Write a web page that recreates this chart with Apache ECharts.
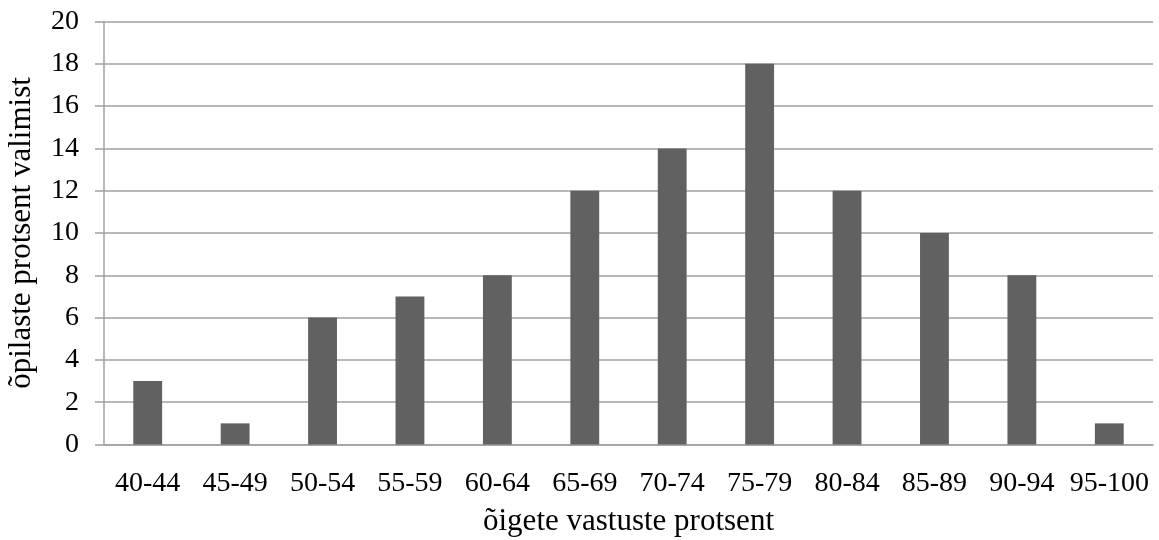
<!DOCTYPE html>
<html>
<head>
<meta charset="utf-8">
<script src="https://cdn.jsdelivr.net/npm/echarts@6/dist/echarts.min.js"></script>
<style>html,body{margin:0;padding:0;background:#fff}#c{width:1159px;height:540px}</style>
</head>
<body>
<div id="c"></div>
<script>
const categories = ['40-44','45-49','50-54','55-59','60-64','65-69','70-74','75-79','80-84','85-89','90-94','95-100'];
const values = [3,1,6,7,8,12,14,18,12,10,8,1];
const xTitle = 'õigete vastuste protsent';
const yTitle = 'õpilaste protsent valimist';

const font = '"Liberation Serif", "Times New Roman", serif';
const chart = echarts.init(document.getElementById('c'), null, {renderer:'canvas'});
chart.setOption({
  animation: false,
  backgroundColor: '#fff',
  grid: {left: 104, right: 6, top: 21.5, bottom: 95.5, containLabel: false, outerBoundsMode: 'none'},
  xAxis: {
    type: 'category',
    data: categories,
    name: xTitle,
    nameLocation: 'middle',
    nameGap: 62,
    nameTextStyle: {fontFamily: font, fontSize: 31, color: '#000'},
    axisLine: {show: true, lineStyle: {color: '#a0a0a0', width: 1.5}},
    axisTick: {show: false},
    axisLabel: {fontFamily: font, fontSize: 28, color: '#000', margin: 25, interval: 0}
  },
  yAxis: {
    type: 'value',
    min: 0, max: 20, interval: 2,
    name: yTitle,
    nameLocation: 'middle',
    nameGap: 67,
    nameTextStyle: {fontFamily: font, fontSize: 31, color: '#000'},
    axisLine: {show: true, lineStyle: {color: '#a0a0a0', width: 1.5}},
    axisTick: {show: true, length: 9, lineStyle: {color: '#a0a0a0', width: 1.5}},
    axisLabel: {fontFamily: font, fontSize: 28, color: '#000', margin: 25},
    splitLine: {show: true, lineStyle: {color: '#a0a0a0', width: 1.5}}
  },
  series: [{
    type: 'bar',
    data: values,
    barWidth: '33%',
    itemStyle: {color: '#616161'}
  }]
});
</script>
</body>
</html>
